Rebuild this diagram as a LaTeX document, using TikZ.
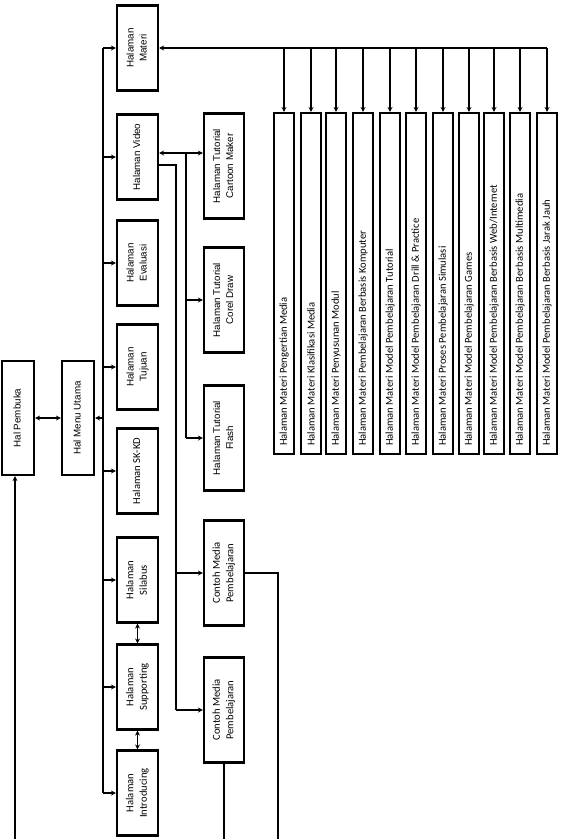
\documentclass[tikz,border=0pt]{standalone}
\usepackage{fontspec}
\newfontfamily\arialf{Liberation Sans}
\newfontfamily\calf{Carlito}
\usetikzlibrary{arrows.meta,calc}
\tikzset{
  bx/.style={draw=black, line width=2.1pt, fill=white, inner sep=0pt},
  colbox/.style={bx, minimum width=41pt, minimum height=85pt},
  tutbox/.style={bx, minimum width=40pt, minimum height=105pt},
  listbox/.style={bx, minimum width=20pt, minimum height=341pt},
  ar/.style={font=\arialf\fontsize{9.8}{13}\selectfont},
  ca/.style={font=\calf\fontsize{10.6}{13.5}\selectfont},
  ln/.style={line width=1.1pt},
  arr/.style={ln, -{Stealth[length=5pt,width=5pt]}},
  darr/.style={ln, {Stealth[length=5pt,width=5pt]}-{Stealth[length=5pt,width=5pt]}},
}
\newcommand{\rt}[1]{\rotatebox{90}{\begin{tabular}{@{}c@{}}#1\end{tabular}}}
\begin{document}
\begin{tikzpicture}[x=1pt,y=-1pt]
\useasboundingbox (0,0) rectangle (565,839);
% left nodes
\node[bx, minimum width=32pt, minimum height=114pt, ar] (pemb) at (18,418) {\rt{Hal Pembuka}};
\node[bx, minimum width=32pt, minimum height=114pt, ar] (menu) at (78,418) {\rt{Hal Menu Utama}};
% column of pages
\node[colbox, ar] (materi) at (137.5,48) {\rt{Halaman\\Materi}};
\node[colbox, ar] (video) at (137.5,157) {\rt{Halaman Video}};
\node[colbox, ar] (evaluasi) at (137.5,263) {\rt{Halaman\\Evaluasi}};
\node[colbox, ar] (tujuan) at (137.5,367) {\rt{Halaman\\Tujuan}};
\node[colbox, ca] (skkd) at (137.5,471) {\rt{Halaman SK-KD}};
\node[colbox, ca] (silabus) at (137.5,580) {\rt{Halaman\\Silabus}};
\node[colbox, ca] (supporting) at (137.5,687) {\rt{Halaman\\Supporting}};
\node[colbox, ca] (intro) at (137.5,793) {\rt{Halaman\\Introducing}};
% tutorial / contoh column
\node[tutbox, ar] (cartoon) at (224,166) {\rt{Halaman Tutorial\\Cartoon Maker}};
\node[tutbox, ar] (corel) at (224,300) {\rt{Halaman Tutorial\\Corel Draw}};
\node[tutbox, ar] (flash) at (224,438) {\rt{Halaman Tutorial\\Flash}};
\node[tutbox, ca] (contoh1) at (224,573) {\rt{Contoh Media\\Pembelajaran}};
\node[tutbox, ca] (contoh2) at (224,710) {\rt{Contoh Media\\Pembelajaran}};
% materi list
\foreach \i/\x in {1/284,2/311,3/336,4/363,5/390,6/416,7/443,8/469,9/494,10/520,11/547}{
  \node[listbox] (m\i) at (\x,283.5) {};
}
\foreach \i/\t in {1/{Halaman Materi Pengertian Media},
  2/{Halaman Materi Klasifikasi Media},
  3/{Halaman Materi Penyusunan Modul},
  4/{Halaman Materi Pembelajaran Berbasis Komputer},
  5/{Halaman Materi Model Pembelajaran Tutorial},
  6/{Halaman Materi Model Pembelajaran Drill \& Practice},
  7/{Halaman Materi Proses Pembelajaran Simulasi},
  8/{Halaman Materi Model Pembelajaran Games},
  9/{Halaman Materi Model Pembelajaran Berbasis Web/Internet},
  10/{Halaman Materi Model Pembelajaran Berbasis Multimedia},
  11/{Halaman Materi Model Pembelajaran Berbasis Jarak Jauh}}{
  \node[ca, rotate=90, anchor=west, inner sep=0pt] (t\i) at ([yshift=9pt]m\i.south) {\t};
}
% bus
\coordinate (busx) at (103,0);
\draw[ln] (busx |- materi.west) -- (busx |- intro.west);
\foreach \n in {materi,video,evaluasi,tujuan,skkd,silabus,supporting,intro}{
  \draw[arr] (busx |- \n.west) -- (\n.west);
}
\draw[arr] (busx |- menu.east) -- (menu.east);
\draw[darr] (pemb.east) -- (menu.west);
\draw[darr] (silabus.south) -- (supporting.north);
\draw[darr] (supporting.south) -- (intro.north);
% pembuka return line
\coordinate (pbot) at (15,839);
\draw[arr] (pbot) -- (pbot |- pemb.south);
% video to tutorials
\coordinate (tx) at (186,0);
\draw[darr] ([yshift=4pt]video.east) -- ([yshift=4pt]video.east -| cartoon.west);
\draw[ln] ([yshift=4pt]video.east -| tx) -- (tx |- flash.west);
\draw[arr] (tx |- corel.west) -- (corel.west);
\draw[arr] (tx |- flash.west) -- (flash.west);
% video to contoh
\coordinate (cx) at (176,0);
\draw[ln] ([yshift=-8pt]video.east) -- ([yshift=-8pt]video.east -| cx) -- (cx |- contoh2.west);
\draw[arr] (cx |- contoh1.west) -- (contoh1.west);
\draw[arr] (cx |- contoh2.west) -- (contoh2.west);
% contoh outgoing lines
\coordinate (rx) at (278,839);
\draw[ln] (contoh1.east) -- (contoh1.east -| rx) -- (rx);
\draw[ln] (contoh2.south) -- (contoh2.south |- rx);
% materi distribution
\draw[arr] (m11.north |- materi.east) -- (materi.east);
\foreach \i in {1,...,11}{
  \draw[arr] (m\i.north |- materi.east) -- (m\i.north);
}
\end{tikzpicture}
\end{document}
